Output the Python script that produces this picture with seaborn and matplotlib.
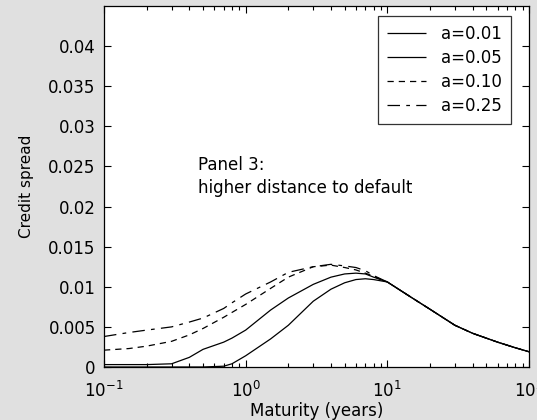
import numpy as np
import pandas as pd
import seaborn as sns
import matplotlib
matplotlib.use("Agg")
import matplotlib.pyplot as plt
from matplotlib.ticker import FuncFormatter, LogLocator

# maturities (years) and credit spreads
maturity = [0.1, 0.15, 0.2, 0.3, 0.4, 0.5, 0.7, 0.8, 1.0, 1.5, 2.0, 3.0, 4.0, 5.0,
            6.0, 7.0, 8.0, 10.0, 15.0, 20.0, 30.0, 40.0, 60.0, 80.0, 100.0]
spread_a001 = [0.0, 0.0, 0.0, 0.0, 0.0, 0.0, 0.0001, 0.0004, 0.0014, 0.0035, 0.0052, 0.0082, 0.0097, 0.0105,
               0.0109, 0.0110, 0.0109, 0.0106, 0.0086, 0.0072, 0.0052, 0.0042, 0.0031, 0.0024, 0.0019]
spread_a005 = [0.0003, 0.0003, 0.0003, 0.0004, 0.0012, 0.0022, 0.0031, 0.0036, 0.0046, 0.0071, 0.0086, 0.0103, 0.0112, 0.0116,
               0.0117, 0.0116, 0.0112, 0.0106, 0.0086, 0.0072, 0.0052, 0.0042, 0.0031, 0.0024, 0.0019]
spread_a010 = [0.0021, 0.0023, 0.0026, 0.0032, 0.0040, 0.0048, 0.0062, 0.0068, 0.0078, 0.0098, 0.0112, 0.0125, 0.0127, 0.0124,
               0.0121, 0.0117, 0.0113, 0.0106, 0.0086, 0.0072, 0.0052, 0.0042, 0.0031, 0.0024, 0.0019]
spread_a025 = [0.0038, 0.0043, 0.0046, 0.0050, 0.0056, 0.0061, 0.0073, 0.0080, 0.0091, 0.0106, 0.0118, 0.0125, 0.0128, 0.0126,
               0.0124, 0.0120, 0.0114, 0.0106, 0.0086, 0.0072, 0.0052, 0.0042, 0.0031, 0.0024, 0.0019]

labels = ["a=0.01", "a=0.05", "a=0.10", "a=0.25"]
series = [spread_a001, spread_a005, spread_a010, spread_a025]

df = pd.concat([pd.DataFrame({"maturity": maturity, "spread": s, "a": lab})
                for lab, s in zip(labels, series)], ignore_index=True)

sns.set_style("ticks")
plt.rcParams["font.family"] = ["DejaVu Sans"]
plt.rcParams["mathtext.fontset"] = "dejavusans"
plt.rcParams["text.color"] = "black"
plt.rcParams["axes.labelcolor"] = "black"

fs = 12
bg = "#e0e0e0"
fig = plt.figure(figsize=(5.37, 4.2), dpi=100, facecolor=bg)
ax = fig.add_axes([104 / 537, 1 - 367 / 420, 425 / 537, 361 / 420])
ax.set_facecolor("white")

styles = {"a=0.01": (0, ()), "a=0.05": (0, ()), "a=0.10": (0, (5, 4)), "a=0.25": (0, (10, 5, 3, 5))}
for lab in labels:
    sns.lineplot(data=df[df["a"] == lab], x="maturity", y="spread", ax=ax,
                 color="black", linewidth=0.9, linestyle=styles[lab], label=lab)

ax.set_xscale("log")
ax.set_xlim(0.1, 100)
ax.set_ylim(0, 0.045)
ax.set_yticks(np.arange(0, 0.0401, 0.005))
ax.yaxis.set_major_formatter(FuncFormatter(lambda v, p: "%g" % round(v, 4)))
ax.xaxis.set_major_formatter(FuncFormatter(lambda v, p: r"$10^{%d}$" % round(np.log10(v))))
ax.xaxis.set_minor_locator(LogLocator(base=10, subs=np.arange(2, 10)))
ax.tick_params(which="both", direction="in", top=True, right=True, labelsize=fs, colors="black")
ax.tick_params(which="major", length=5, width=0.8)
ax.tick_params(which="minor", length=3, width=0.8)
ax.tick_params(axis="x", which="major", pad=10)
ax.tick_params(axis="y", which="major", pad=6)
for sp in ax.spines.values():
    sp.set_visible(True)
    sp.set_color("black")
    sp.set_linewidth(0.9)

ax.set_xlabel("Maturity (years)", fontsize=fs, labelpad=1)
ax.set_ylabel("Credit spread", fontsize=11, labelpad=10)

ax.text(0.46, 0.0237, "Panel 3:\nhigher distance to default", fontsize=fs,
        va="center", ha="left", linespacing=1.35)

leg = ax.legend(loc="upper center", bbox_to_anchor=(0.801, 0.972), frameon=True, fancybox=False,
                edgecolor="black", fontsize=fs, handlelength=2.3, handletextpad=0.9,
                borderpad=0.55, labelspacing=0.36, borderaxespad=0.0)
leg.get_frame().set_linewidth(0.9)

fig.savefig("out.png", dpi=100, facecolor=bg)
